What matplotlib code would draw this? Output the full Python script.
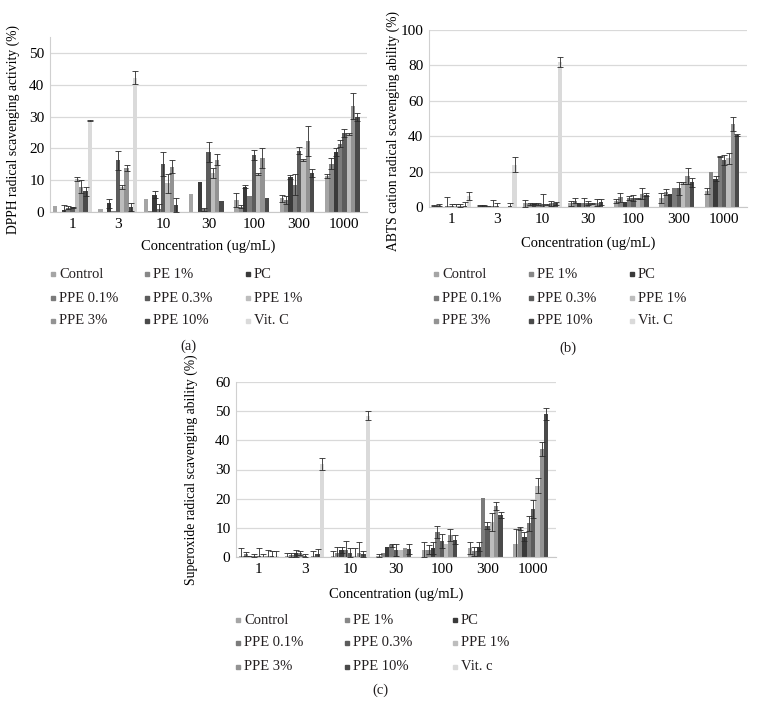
import matplotlib
matplotlib.use('Agg')
import matplotlib.pyplot as plt
from matplotlib.lines import Line2D
import numpy as np

plt.rcParams['font.family'] = ['Liberation Serif', 'DejaVu Serif']
plt.rcParams['font.size'] = 9.5
plt.rcParams['text.color'] = '#231f20'

concentrations = ['1', '3', '10', '30', '100', '300', '1000']
series = ['Control', 'PE 1%', 'PC', 'PPE 0.1%', 'PPE 0.3%', 'PPE 1%', 'PPE 3%', 'PPE 10%', 'Vit. C']
colors = ['#a5a5a5', '#878787', '#3a3a3a', '#7b7b7b', '#5c5c5c', '#bdbdbd', '#939393', '#4a4a4a', '#dadada']

# rows follow series, columns follow concentrations
dpph_mean = [
    [2.0, 1.0, 4.0, 5.8, 3.8, 4.3, 11.3],
    [0.0, 0.0, 0.3, 0.0, 1.7, 3.7, 15.2],
    [0.5, 2.8, 5.5, 9.3, 8.0, 11.0, 18.8],
    [1.3, 0.3, 1.0, 0.8, 5.0, 8.5, 21.5],
    [1.5, 16.2, 15.2, 18.8, 18.0, 19.3, 24.8],
    [10.3, 7.8, 9.0, 12.3, 12.0, 16.3, 24.5],
    [8.0, 13.8, 14.3, 16.5, 17.0, 22.3, 33.3],
    [6.5, 1.5, 2.3, 3.5, 4.5, 12.3, 29.8],
    [28.7, 42.2, 0, 0, 0, 0, 0],
]
dpph_err = [
    [0, 0, 0, 0, 2.2, 1.2, 0.7],
    [0, 0, 0, 0, 0.4, 1.3, 1.8],
    [1.8, 1.4, 1.0, 0, 0.5, 0.5, 1.2],
    [0.5, 0, 1.5, 0.5, 0, 3.3, 1.0],
    [0.2, 3.1, 3.8, 3.2, 1.5, 1.2, 1.2],
    [0.7, 0.7, 3.0, 1.5, 0.3, 0.3, 0.3],
    [2.0, 0.9, 1.9, 1.8, 3.2, 4.7, 4.0],
    [1.5, 1.3, 2.2, 0, 0, 1.2, 1.2],
    [0.2, 2.0, 0, 0, 0, 0, 0],
]

abts_mean = [
    [0.8, 1.0, 2.0, 2.0, 3.5, 5.0, 9.0],
    [1.2, 1.0, 1.8, 3.5, 5.5, 8.5, 20.0],
    [0.2, 0.3, 1.8, 2.0, 3.0, 7.5, 16.0],
    [0.3, 0.5, 1.5, 2.0, 5.0, 11.0, 28.5],
    [0.5, 0.3, 1.5, 2.3, 5.0, 10.5, 26.5],
    [0.5, 0.0, 1.2, 2.0, 4.8, 13.5, 27.5],
    [0.8, 0.2, 2.0, 2.5, 7.5, 17.5, 47.0],
    [0.5, 0.3, 2.0, 2.8, 7.0, 14.0, 40.5],
    [6.2, 24.0, 82.0, 0, 0, 0, 0],
]
abts_err = [
    [0.3, 0.3, 2.0, 1.5, 1.0, 3.0, 1.5],
    [0.5, 0.3, 0.5, 1.5, 2.5, 1.5, 0],
    [0, 0, 0.3, 0, 0, 0, 1.5],
    [5.3, 3.5, 0.5, 3.0, 1.0, 0, 0.5],
    [1.0, 2.2, 6.0, 1.2, 1.5, 3.5, 3.0],
    [1.0, 0, 0.3, 0.5, 0.5, 0.5, 3.0],
    [1.0, 0, 1.5, 2.0, 3.0, 4.5, 4.0],
    [2.3, 2.2, 0.8, 1.7, 1.0, 2.5, 0.5],
    [2.0, 4.0, 3.0, 0, 0, 0, 0],
]

sox_mean = [
    [0.3, 0.2, 0.3, 0.5, 2.5, 3.0, 4.5],
    [1.0, 0.8, 1.5, 1.5, 2.5, 2.0, 9.8],
    [0.5, 1.3, 2.5, 3.5, 3.0, 3.5, 7.0],
    [0.5, 1.5, 2.5, 4.0, 8.5, 20.3, 11.5],
    [0.3, 0.5, 1.5, 2.5, 5.5, 10.8, 16.5],
    [0.3, 0.0, 0.3, 2.5, 4.5, 12.0, 24.5],
    [0.5, 0.2, 1.5, 3.0, 7.5, 17.5, 37.0],
    [0.3, 1.0, 1.0, 2.8, 6.0, 14.5, 49.0],
    [0.5, 32.0, 48.5, 0, 0, 0, 0],
]
sox_err = [
    [2.7, 1.3, 1.7, 0.5, 2.5, 2.0, 5.0],
    [0.8, 0.7, 2.0, 0, 1.5, 1.5, 0.4],
    [0, 1.2, 1.0, 0, 2.0, 1.5, 1.5],
    [0.5, 0.7, 3.0, 0.5, 2.0, 0, 2.5],
    [2.7, 0.5, 1.5, 2.0, 2.5, 1.2, 3.0],
    [0.7, 0, 2.7, 0, 0, 3.0, 2.5],
    [2.0, 1.8, 3.5, 0, 2.0, 1.5, 2.5],
    [1.7, 1.8, 1.0, 1.7, 1.5, 1.0, 2.0],
    [1.5, 2.0, 1.5, 0, 0, 0, 0],
]


def draw_panel(ax, mean, err, ylim, step, ylabel):
    x = np.arange(len(concentrations))
    w = 0.86 / len(series)
    for i in range(len(series)):
        xs = x + (i - 4) * w
        m = np.array(mean[i])
        e = np.array(err[i])
        ax.bar(xs, m, w, color=colors[i], zorder=2)
        keep = e > 0
        ax.errorbar(xs[keep], m[keep], yerr=e[keep], fmt='none', ecolor='#2a2a2a',
                    elinewidth=0.6, capsize=2, capthick=0.6, zorder=3)
    ax.set_xlim(-0.5, len(concentrations) - 0.5)
    ax.set_ylim(0, ylim)
    ax.set_yticks(np.arange(0, ylim + 0.1, step))
    ax.set_xticks(x)
    ax.set_xticklabels(concentrations)
    ax.yaxis.grid(True, color='#d9d9d9', linewidth=0.9, zorder=0)
    ax.set_axisbelow(True)
    for s in ['top', 'right']:
        ax.spines[s].set_visible(False)
    ax.spines['left'].set_color('#d0d0d0')
    ax.spines['bottom'].set_color('#c8c8c8')
    ax.tick_params(length=0, pad=4, labelsize=11)
    ax.set_ylabel(ylabel, fontsize=9.8)
    ax.set_xlabel('Concentration (ug/mL)', fontsize=10.5)


def draw_legend(fig, names, xcols, yrows):
    W, H = 759.0, 717.0
    for i, name in enumerate(names):
        px = xcols[i % 3]
        py = yrows[i // 3]
        fig.add_artist(Line2D([px / W], [1 - py / H], marker='s', markersize=3.0,
                              color=colors[i], linestyle='none', transform=fig.transFigure))
        fig.text((px + 6) / W, 1 - py / H, name, fontsize=10.5, va='center', ha='left')


def main():
    fig = plt.figure(figsize=(7.59, 7.17), dpi=100)
    W, H = 759.0, 717.0

    ax_a = fig.add_axes([50 / W, 1 - 212 / H, 317 / W, 175 / H])
    draw_panel(ax_a, dpph_mean, dpph_err, 55, 10, 'DPPH radical scavenging activity (%)')
    ax_a.yaxis.set_label_coords(-0.095, 0.47)
    ax_a.xaxis.set_label_coords(0.5, -0.16)

    ax_b = fig.add_axes([429 / W, 1 - 207 / H, 318 / W, 177 / H])
    draw_panel(ax_b, abts_mean, abts_err, 100, 20, 'ABTS cation radical scavenging ability (%)')
    ax_b.yaxis.set_label_coords(-0.09, 0.43)
    ax_b.xaxis.set_label_coords(0.5, -0.165)

    ax_c = fig.add_axes([236 / W, 1 - 557 / H, 320 / W, 175 / H])
    draw_panel(ax_c, sox_mean, sox_err, 60, 10, 'Superoxide radical scavenging ability (%)')
    ax_c.yaxis.set_label_coords(-0.12, 0.5)
    ax_c.xaxis.set_label_coords(0.5, -0.177)

    draw_legend(fig, series, [53, 147, 248], [274, 298, 321])
    draw_legend(fig, series, [436, 531, 632], [274, 298, 321])
    names_c = series[:-1] + ['Vit. c']
    draw_legend(fig, names_c, [238, 347, 455], [620, 643, 667])

    fig.text(188 / W, 1 - 346 / H, '(a)', fontsize=10.5, ha='center', va='center')
    fig.text(568 / W, 1 - 348 / H, '(b)', fontsize=10.5, ha='center', va='center')
    fig.text(380 / W, 1 - 690 / H, '(c)', fontsize=10.5, ha='center', va='center')

    fig.savefig('out.png', dpi=100)


if __name__ == "__main__":
    main()
